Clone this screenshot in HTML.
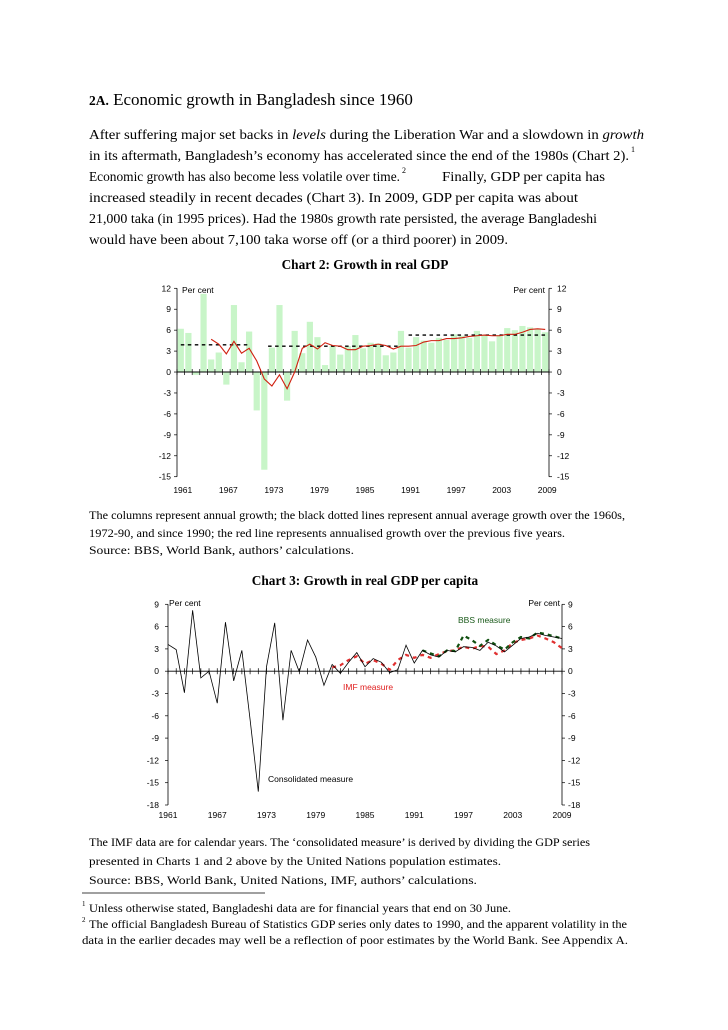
<!DOCTYPE html>
<html><head><meta charset="utf-8"><style>
html,body{margin:0;padding:0;background:#fff}
svg{display:block}
.s{font-family:"Liberation Serif",serif;fill:#000}
.a{font-family:"Liberation Sans",sans-serif;fill:#000;font-size:8.5px}
</style></head><body>
<svg id="g" width="728" height="1030" xmlns="http://www.w3.org/2000/svg">
<text class="s" x="89" y="105" font-size="17"><tspan font-weight="bold" font-size="13.5">2A.</tspan> Economic growth in Bangladesh since 1960</text>
<g class="s" font-size="13.6">
<text x="89" y="139" textLength="555" lengthAdjust="spacingAndGlyphs">After suffering major set backs in <tspan font-style="italic">levels</tspan> during the Liberation War and a slowdown in <tspan font-style="italic">growth</tspan></text>
<text x="89" y="160" textLength="540" lengthAdjust="spacingAndGlyphs">in its aftermath, Bangladesh’s economy has accelerated since the end of the 1980s (Chart 2).</text>
<text x="631" y="152" font-size="8">1</text>
<text x="89" y="181" textLength="311" lengthAdjust="spacingAndGlyphs">Economic growth has also become less volatile over time.</text>
<text x="402" y="173" font-size="8">2</text>
<text x="442" y="181" textLength="163" lengthAdjust="spacingAndGlyphs">Finally, GDP per capita has</text>
<text x="89" y="202" textLength="489" lengthAdjust="spacingAndGlyphs">increased steadily in recent decades (Chart 3).  In 2009, GDP per capita was about</text>
<text x="89" y="223" textLength="508" lengthAdjust="spacingAndGlyphs">21,000 taka (in 1995 prices).  Had the 1980s growth rate persisted, the average Bangladeshi</text>
<text x="89" y="244" textLength="419" lengthAdjust="spacingAndGlyphs">would have been about 7,100 taka worse off (or a third poorer) in 2009.</text>
</g>
<text class="s" x="365" y="269" font-size="13.3" font-weight="bold" text-anchor="middle">Chart 2: Growth in real GDP</text>
<g class="s" font-size="12">
<text x="89" y="519" textLength="536" lengthAdjust="spacingAndGlyphs">The columns represent annual growth; the black dotted lines represent annual average growth over the 1960s,</text>
<text x="89" y="537" textLength="476" lengthAdjust="spacingAndGlyphs">1972-90, and since 1990; the red line represents annualised growth over the previous five years.</text>
<text x="89" y="554" textLength="265" lengthAdjust="spacingAndGlyphs">Source: BBS, World Bank, authors’ calculations.</text>
</g>
<text class="s" x="365" y="585" font-size="13.3" font-weight="bold" text-anchor="middle">Chart 3: Growth in real GDP per capita</text>
<g class="s" font-size="12">
<text x="89" y="846" textLength="501" lengthAdjust="spacingAndGlyphs">The IMF data are for calendar years. The ‘consolidated measure’ is derived by dividing the GDP series</text>
<text x="89" y="865" textLength="412" lengthAdjust="spacingAndGlyphs">presented in Charts 1 and 2 above by the United Nations population estimates.</text>
<text x="89" y="884" textLength="388" lengthAdjust="spacingAndGlyphs">Source: BBS, World Bank, United Nations, IMF, authors’ calculations.</text>
</g>
<line x1="82" y1="893" x2="265" y2="893" stroke="#000" stroke-width="0.8"/>
<g class="s" font-size="11.6">
<text x="82" y="906" font-size="7">1</text>
<text x="89" y="912" textLength="422" lengthAdjust="spacingAndGlyphs">Unless otherwise stated, Bangladeshi data are for financial years that end on 30 June.</text>
<text x="82" y="922" font-size="7">2</text>
<text x="89" y="928" textLength="538" lengthAdjust="spacingAndGlyphs">The official Bangladesh Bureau of Statistics GDP series only dates to 1990, and the apparent volatility in the</text>
<text x="82" y="944" textLength="546" lengthAdjust="spacingAndGlyphs">data in the earlier decades may well be a reflection of poor estimates by the World Bank.  See Appendix A.</text>
</g>
</svg>
<script>
var S=document.getElementById('g'),NS='http://www.w3.org/2000/svg';
function el(t,a,txt){var e=document.createElementNS(NS,t);for(var k in a)e.setAttribute(k,a[k]);if(txt!=null)e.textContent=txt;S.appendChild(e);return e;}
(function(){
var L=177,R=549,T=288.3,B=476.7,u=(B-T)/27,z=T+12*u,w=(R-L)/49;
function Y(v){return z-v*u}
var bars=[6.2,5.6,-0.4,11.2,1.8,2.8,-1.8,9.6,1.4,5.8,-5.5,-14,3.5,9.6,-4.1,5.9,2.7,7.2,5.0,1.0,3.8,2.5,3.7,5.3,3.4,4.2,4.1,2.4,2.8,5.9,3.5,5.0,4.5,4.2,4.9,4.6,5.4,5.2,4.9,5.9,5.3,4.4,5.3,6.3,6.0,6.6,6.4,6.2,5.7];
bars.forEach(function(v,i){var x=L+i*w+0.7;el('rect',{x:x,y:Math.min(Y(v),z),width:w-1.4,height:Math.abs(v*u),fill:'#c8f5c8'});});
el('line',{x1:L,y1:T,x2:L,y2:B,stroke:'#000','stroke-width':0.8});
el('line',{x1:R,y1:T,x2:R,y2:B,stroke:'#000','stroke-width':0.8});
el('line',{x1:L,y1:z,x2:R,y2:z,stroke:'#000','stroke-width':1});
for(var i=0;i<=49;i++){var x=L+i*w;el('line',{x1:x,y1:z-3,x2:x,y2:z+3,stroke:'#000','stroke-width':0.7});}
for(var v=12;v>=-15;v-=3){var y=Y(v);el('line',{x1:L-3,y1:y,x2:L,y2:y,stroke:'#000','stroke-width':0.7});el('line',{x1:R,y1:y,x2:R+3,y2:y,stroke:'#000','stroke-width':0.7});
el('text',{x:L-6,y:y+3,'class':'a','text-anchor':'end'},String(v));el('text',{x:R+8,y:y+3,'class':'a'},String(v));}
for(var yr=1961;yr<=2009;yr+=6){var x=L+(yr-1961)*w+w/2;el('text',{x:x+2,y:493,'class':'a','text-anchor':'middle'},String(yr));}
el('text',{x:L+5,y:293,'class':'a'},'Per cent');el('text',{x:R-4,y:293,'class':'a','text-anchor':'end'},'Per cent');
function cx(yr){return L+(yr-1961)*w+w/2}
[[1961,1970,3.9],[1972.5,1990,3.7],[1991,2009,5.3]].forEach(function(d){el('line',{x1:cx(d[0]),y1:Y(d[2]),x2:cx(d[1]),y2:Y(d[2]),stroke:'#000','stroke-width':1.4,'stroke-dasharray':'3.5,3.5'});});
var red=[4.7,4.0,2.6,4.4,2.7,3.4,1.6,-1.0,-2.0,-0.4,-2.4,0.0,3.4,4.0,3.3,4.2,3.8,3.7,3.2,3.2,3.7,3.8,4.0,3.8,3.3,3.7,3.7,3.8,4.3,4.5,4.5,4.8,4.8,4.9,5.1,5.2,5.3,5.2,5.2,5.4,5.4,5.7,6.1,6.2,6.1];
el('polyline',{points:red.map(function(v,i){return cx(1965+i)+','+Y(v)}).join(' '),fill:'none',stroke:'#d02010','stroke-width':1.1});
})();
(function(){
var L=168,R=562,T=604.3,B=805,u=(B-T)/27,z=T+9*u,w=(R-L)/48;
function Y(v){return z-v*u} function X(yr){return L+(yr-1961)*w}
el('line',{x1:L,y1:T,x2:L,y2:B,stroke:'#000','stroke-width':0.8});
el('line',{x1:R,y1:T,x2:R,y2:B,stroke:'#000','stroke-width':0.8});
el('line',{x1:L,y1:z,x2:R,y2:z,stroke:'#000','stroke-width':0.8});
for(var i=0;i<=48;i++){var x=X(1961+i);el('line',{x1:x,y1:z-3,x2:x,y2:z+3,stroke:'#000','stroke-width':0.7});}
for(var v=9;v>=-18;v-=3){var y=Y(v);el('line',{x1:L-3,y1:y,x2:L,y2:y,stroke:'#000','stroke-width':0.7});el('line',{x1:R,y1:y,x2:R+3,y2:y,stroke:'#000','stroke-width':0.7});
el('text',{x:L-9,y:y+3,'class':'a','text-anchor':'end'},String(v));el('text',{x:R+6,y:y+3,'class':'a'},String(v));}
for(var yr=1961;yr<=2009;yr+=6){el('text',{x:X(yr),y:818,'class':'a','text-anchor':'middle'},String(yr));}
el('text',{x:L+1,y:606,'class':'a'},'Per cent');el('text',{x:R-2,y:606,'class':'a','text-anchor':'end'},'Per cent');
var con=[3.6,2.9,-2.9,8.2,-0.9,0,-4.3,6.6,-1.3,2.8,-6.5,-16.2,0.6,6.5,-6.6,2.8,-0.1,4.2,1.9,-1.9,0.9,-0.3,1.2,2.5,0.6,1.7,1.2,-0.2,0.2,3.5,1.1,2.8,2.2,1.9,2.8,2.6,3.3,3.2,2.8,3.9,3.4,2.6,3.5,4.4,4.6,5.1,4.8,4.6,4.4];
var imf=[0.5,0.8,1.5,2.0,1.0,1.5,1.0,0.2,1.5,2.2,1.8,2.2,1.8,2.3,2.7,2.8,3.3,3.0,3.4,3.3,2.3,2.8,3.8,4.2,4.4,4.8,4.4,3.9,3.1];
var bbs=[2.8,2.4,2.0,2.8,2.7,4.8,4.2,3.4,4.2,3.5,2.9,3.9,4.6,4.4,5.2,5.0,4.7,4.4];
el('polyline',{points:imf.map(function(v,i){return X(1981+i)+','+Y(v)}).join(' '),fill:'none',stroke:'#e03030','stroke-width':2.2,'stroke-dasharray':'4,4'});
el('polyline',{points:bbs.map(function(v,i){return X(1992+i)+','+Y(v)}).join(' '),fill:'none',stroke:'#105010','stroke-width':2.2,'stroke-dasharray':'4,4'});
el('polyline',{points:con.map(function(v,i){return X(1961+i)+','+Y(v)}).join(' '),fill:'none',stroke:'#000','stroke-width':0.8});
el('text',{x:458,y:623,'class':'a',style:'fill:#1a5a1a'},'BBS measure');
el('text',{x:343,y:690,'class':'a',style:'fill:#e02020'},'IMF measure');
el('text',{x:268,y:782,'class':'a'},'Consolidated measure');
})();
</script>
</body></html>
